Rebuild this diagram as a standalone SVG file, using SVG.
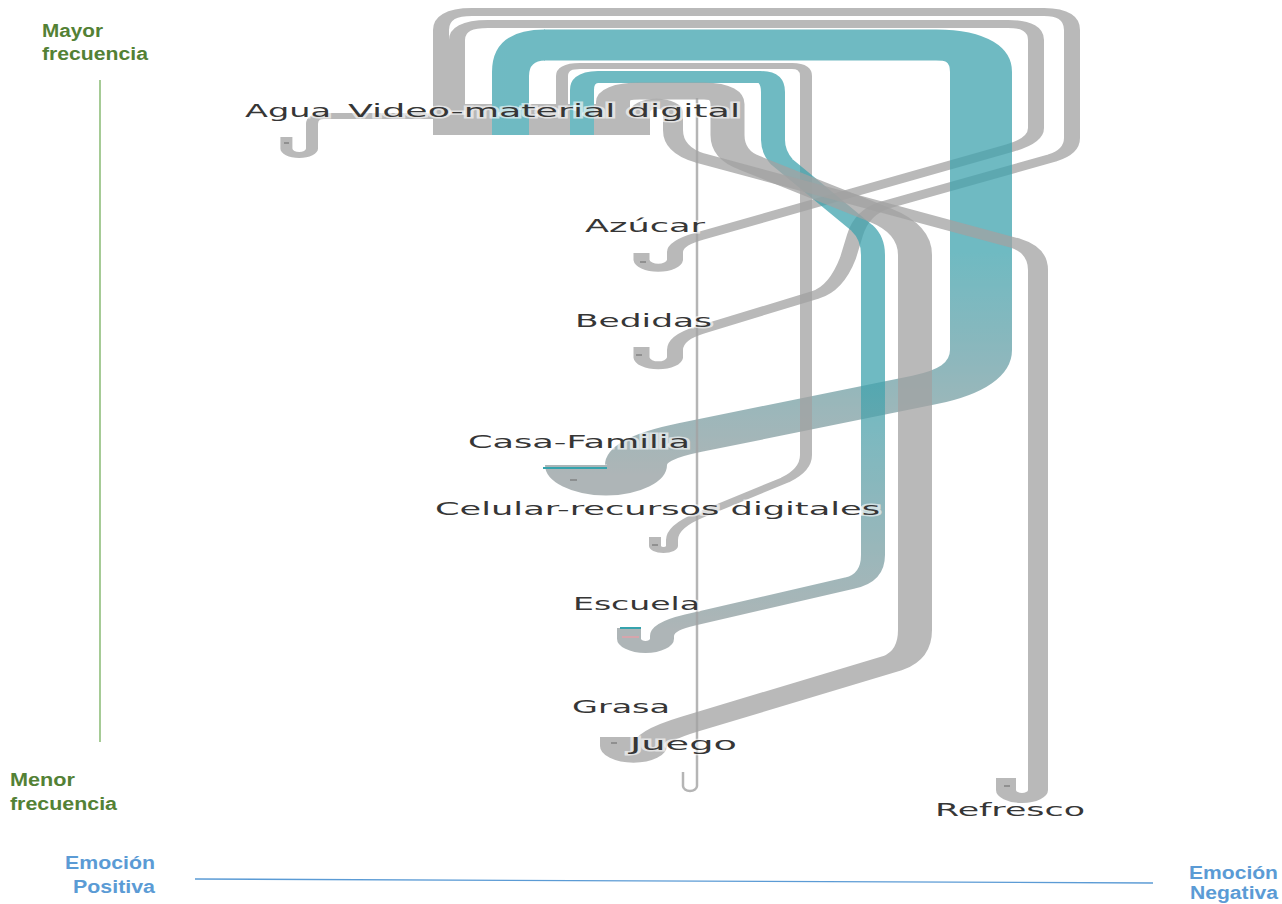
<svg xmlns="http://www.w3.org/2000/svg" width="1282" height="904" viewBox="0 0 1282 904">
  <defs>
    <!-- colour fades from teal at the source to grey at the target -->
    <linearGradient id="gCasa" gradientUnits="userSpaceOnUse" x1="0" y1="250" x2="0" y2="475">
      <stop offset="0" stop-color="#3fa3ae"/>
      <stop offset="1" stop-color="#939d9f"/>
    </linearGradient>
    <linearGradient id="gEsc" gradientUnits="userSpaceOnUse" x1="0" y1="380" x2="0" y2="630">
      <stop offset="0" stop-color="#3fa3ae"/>
      <stop offset="1" stop-color="#939d9f"/>
    </linearGradient>
  </defs>
  <style>
    .band{fill:none;stroke-linejoin:round;stroke-linecap:butt}
    .gray{stroke:#a2a2a2}
    .lnk{opacity:.75}
    .lbl{font-family:"DejaVu Sans","Liberation Sans",sans-serif;font-size:17px;fill:#363636;stroke:#fff;stroke-width:3px;stroke-opacity:.6;paint-order:stroke}
    .ax{font-family:"Liberation Sans",Arial,sans-serif;font-weight:bold;font-size:18px}
    .green{fill:#538135}
    .blue{fill:#5b9bd5}
    .tick{stroke:#7a7a7a;stroke-width:1.3;fill:none}
  </style>

  <rect width="1282" height="904" fill="#fff"/>

  <!-- axes -->
  <g id="axes">
    <path d="M100 80 V742" stroke="#6aa84f" stroke-width="1.2" fill="none"/>
    <path d="M195 879 L1153 883" stroke="#5b9bd5" stroke-width="1.3" fill="none"/>
    <text class="ax green" x="42" y="37" textLength="61" lengthAdjust="spacingAndGlyphs">Mayor</text>
    <text class="ax green" x="42" y="60" textLength="106" lengthAdjust="spacingAndGlyphs">frecuencia</text>
    <text class="ax green" x="10" y="786" textLength="65" lengthAdjust="spacingAndGlyphs">Menor</text>
    <text class="ax green" x="10" y="810" textLength="107" lengthAdjust="spacingAndGlyphs">frecuencia</text>
    <text class="ax blue" x="65" y="869" textLength="90" lengthAdjust="spacingAndGlyphs">Emoción</text>
    <text class="ax blue" x="73" y="893" textLength="82" lengthAdjust="spacingAndGlyphs">Positiva</text>
    <text class="ax blue" x="1189" y="879" textLength="89" lengthAdjust="spacingAndGlyphs">Emoción</text>
    <text class="ax blue" x="1190" y="899" textLength="88" lengthAdjust="spacingAndGlyphs">Negativa</text>
  </g>

  <!-- source node block -->
  <g id="node-video" class="lnk" fill="#a2a2a2">
    <rect x="433" y="104" width="59" height="31"/>
    <rect x="529" y="104" width="41" height="31"/>
    <rect x="594" y="104" width="36" height="31"/>
    <rect x="630" y="112" width="20" height="23"/>
  </g>

  <!-- links: drawn in a 2:1 stretched space, so vertical runs are twice as wide as horizontal ones -->
  <g id="links">
    <g id="link-bedidas" class="lnk">
      <g transform="scale(2,1)">
        <path class="band gray" stroke-width="8" d="M220.5 104 V30 Q220.5 12 236 12 H522 Q536 12 536 30 V138 Q536 152 526 158 L442.5 205 Q431 212 427.5 235 L424 258 Q418 289 407.5 295 L350 330 Q337.5 337.6 337.5 350 V357.6 A8.4 8.4 0 0 1 320.75 357.6 V347"/>
      </g>
    </g>
    <g id="link-azucar" class="lnk">
      <g transform="scale(2,1)">
        <path class="band gray" stroke-width="8" d="M228.5 104 V40 Q228.5 24 244 24 H504 Q518 24 518 40 V128 Q518 140.6 505 148 L350 236 Q337.5 243.1 337.5 252 V260 A8.4 8.4 0 0 1 320.75 260 V253"/>
      </g>
    </g>
    <g id="link-casa" class="lnk">
      <path d="M492 135 V72 Q492 29.5 545 29.5 V60.5 Q529 60.5 529 76 V135 Z" fill="url(#gCasa)"/>
      <g transform="scale(2,1)">
        <path class="band" stroke="url(#gCasa)" stroke-width="31" d="M272 45 H468 Q490.5 45 490.5 72 V350 Q490.5 378.4 462 390 L345 437.5 Q318 448.5 318 465 A15 15 0 0 1 288 465"/>
      </g>
    </g>
    <g id="link-celular" class="lnk">
      <g transform="scale(2,1)">
        <path class="band gray" stroke-width="6" d="M281 104 V76 Q281 66 290 66 H396 Q403 66 403 76 V455 Q403 470 392.5 480 L350 515 Q336 526.5 336 540 V545.75 A4.25 4.25 0 0 1 327.5 545.75 V537"/>
      </g>
    </g>
    <g id="link-escuela" class="lnk">
      <g transform="scale(2,1)">
        <path class="band" stroke="url(#gEsc)" stroke-width="12" d="M291 135 V90 Q291 77 299 77 H380 Q386.5 77 386.5 92 V140 Q386.5 152 391 162 L431 228 Q436.5 238 436.5 255 V555 Q436.5 578 425 583 L345 620 Q331 626.5 331 636 V638.75 A8.25 8.25 0 0 1 314.5 638.75 V628"/>
      </g>
    </g>
    <g id="link-grasa" class="lnk">
      <g transform="scale(2,1)">
        <path class="band gray" stroke-width="17" d="M306.5 104 V102 Q306.5 91 320 91 H352 Q363.75 91 363.75 104 V135 Q363.75 155 375 163 L440 215 Q457.5 229 457.5 255 V630 Q457.5 655 446.5 663 L345 724 Q325 736 325 746 A8.25 8.25 0 0 1 308.5 746 V737"/>
      </g>
    </g>
    <g id="link-refresco" class="lnk">
      <g transform="scale(2,1)">
        <path class="band gray" stroke-width="10" d="M320 112 A8.25 8.25 0 0 1 336.5 112 V130 Q336.5 150 350 158 L507.5 243 Q519 250 519 270 V790 A8 8 0 0 1 503 790 V778"/>
      </g>
    </g>
    <g id="link-agua" class="lnk">
      <g transform="scale(2,1)">
        <path class="band gray" stroke-width="6" d="M216.5 116 H162 Q156 116 156 124 V148.6 A6.4 6.4 0 0 1 143.2 148.6 V137"/>
      </g>
    </g>
    <g id="link-juego" opacity=".8">
      <path d="M697 98 V786 A7 5 0 0 1 683 786 V772" stroke="#a2a2a2" stroke-width="2.5" fill="none"/>
    </g>
  </g>

  <!-- nodes: labels and end markers -->
  <g id="node-agua">
    <path class="tick" d="M284 143 H289"/>
    <text class="lbl" x="245" y="117" textLength="86" lengthAdjust="spacingAndGlyphs">Agua</text>
  </g>
  <g id="node-video-label">
    <text class="lbl" x="348" y="117" textLength="392" lengthAdjust="spacingAndGlyphs">Video-material digital</text>
  </g>
  <g id="node-azucar">
    <path class="tick" d="M640 262 H646"/>
    <text class="lbl" x="585" y="232" textLength="120" lengthAdjust="spacingAndGlyphs">Azúcar</text>
  </g>
  <g id="node-bedidas">
    <path class="tick" d="M636 355 H642"/>
    <text class="lbl" x="575" y="327" textLength="137" lengthAdjust="spacingAndGlyphs">Bedidas</text>
  </g>
  <g id="node-casa">
    <path d="M543 468 H607" stroke="#35a3ad" stroke-width="2" fill="none"/>
    <path class="tick" d="M570 480 H577"/>
    <text class="lbl" x="468" y="448" textLength="222" lengthAdjust="spacingAndGlyphs">Casa-Familia</text>
  </g>
  <g id="node-celular">
    <path class="tick" d="M652 545 H658"/>
    <text class="lbl" x="435" y="515" textLength="445" lengthAdjust="spacingAndGlyphs">Celular-recursos digitales</text>
  </g>
  <g id="node-escuela">
    <path d="M620 628 H641" stroke="#35a3ad" stroke-width="2" fill="none"/>
    <path d="M622 637 H639" stroke="#e3a0a8" stroke-width="1.5" fill="none"/>
    <text class="lbl" x="573" y="610" textLength="127" lengthAdjust="spacingAndGlyphs">Escuela</text>
  </g>
  <g id="node-grasa">
    <path class="tick" d="M611 743 H617"/>
    <text class="lbl" x="572" y="713" textLength="98" lengthAdjust="spacingAndGlyphs">Grasa</text>
  </g>
  <g id="node-juego">
    <text class="lbl" x="630" y="750" textLength="107" lengthAdjust="spacingAndGlyphs">Juego</text>
  </g>
  <g id="node-refresco">
    <path class="tick" d="M1004 786 H1010"/>
    <text class="lbl" x="935" y="816" textLength="150" lengthAdjust="spacingAndGlyphs">Refresco</text>
  </g>
</svg>
